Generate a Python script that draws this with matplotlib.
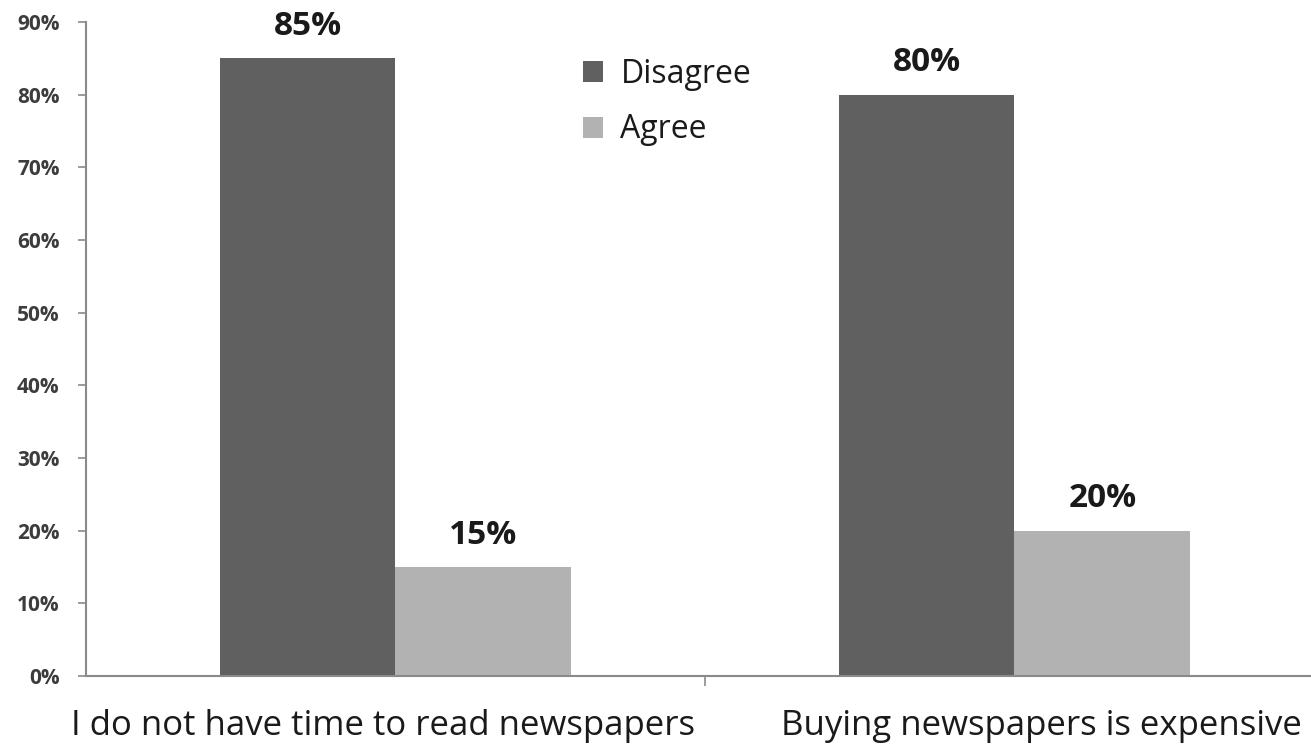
import matplotlib.pyplot as plt
import numpy as np

plt.rcParams['font.family'] = ['Open Sans', 'DejaVu Sans']

categories = ['I do not have time to read newspapers', 'Buying newspapers is expensive']
disagree = [85, 80]
agree = [15, 20]
yticks = [0, 10, 20, 30, 40, 50, 60, 70, 80, 90]


def main():
    fig = plt.figure(figsize=(13.11, 7.47), dpi=100)
    # axis runs off the right edge of the canvas
    ax = fig.add_axes([86/1311, 71/747, 1238/1311, 654/747])

    x = np.arange(len(categories))
    w = 0.284
    b1 = ax.bar(x - w/2, disagree, w, color='#606060', label='Disagree')
    b2 = ax.bar(x + w/2, agree, w, color='#b2b2b2', label='Agree')

    for bars, vals in ((b1, disagree), (b2, agree)):
        for bar, v in zip(bars, vals):
            ax.text(bar.get_x() + bar.get_width()/2, v + 2.1, f'{v}%',
                    ha='center', va='bottom', fontsize=24, fontweight='bold',
                    color='#1a1a1a')

    ax.set_xlim(-0.5, 1.5)
    ax.set_ylim(0, 90)
    ax.set_yticks(yticks)
    ax.set_yticklabels([f'{t}%' for t in yticks], fontsize=15,
                       fontweight='bold', color='#3c3c3c')
    ax.set_xticks([0.5])
    ax.set_xticklabels([''])
    ax.tick_params(axis='y', length=6, width=1.2, color='#8a8a8a', pad=13)
    ax.tick_params(axis='x', length=7, width=1.2, color='#8a8a8a')
    # category names sit a little off the group centres
    label_x = [x[0] - 0.02, x[1] + 0.043]
    for lx, c in zip(label_x, categories):
        ax.text(lx, -4.6, c, ha='center', va='top', fontsize=25,
                color='#1a1a1a')

    for s in ('top', 'right'):
        ax.spines[s].set_visible(False)
    for s in ('left', 'bottom'):
        ax.spines[s].set_color('#8a8a8a')
        ax.spines[s].set_linewidth(1.5)

    ax.legend(loc='upper left', bbox_to_anchor=(0.378, 0.989), frameon=False,
              fontsize=23, handlelength=0.63, handleheight=0.63,
              handletextpad=0.55, labelspacing=0.7, labelcolor='#1a1a1a')

    fig.savefig('out.png', dpi=100)


if __name__ == '__main__':
    main()
